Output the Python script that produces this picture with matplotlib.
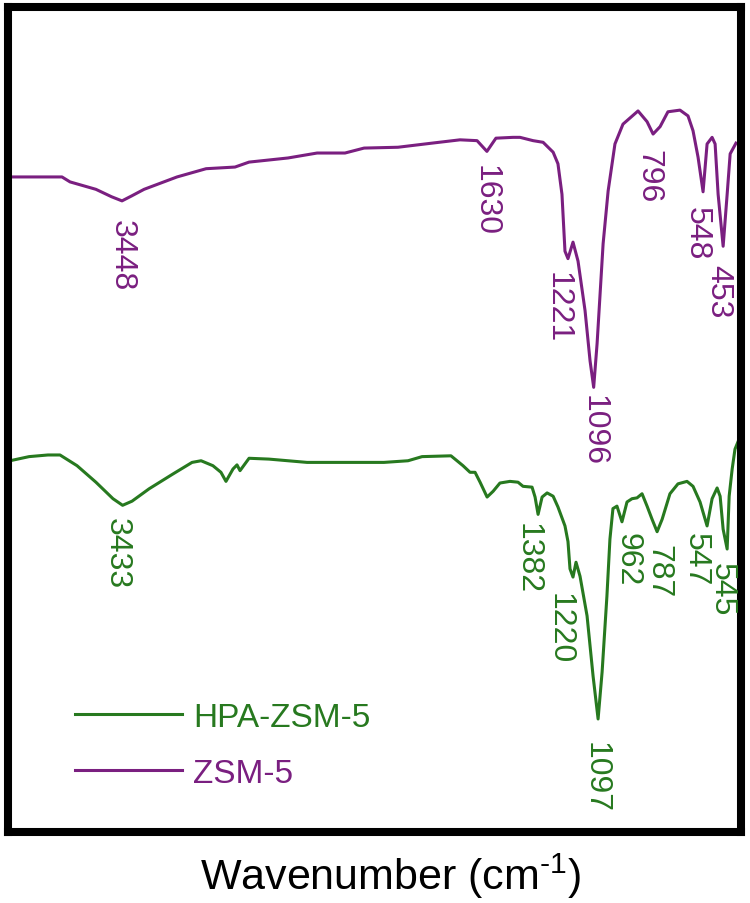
import numpy as np
import matplotlib
matplotlib.use("Agg")
import matplotlib.pyplot as plt

plt.rcParams['font.family'] = ['Liberation Sans', 'DejaVu Sans']
plt.rcParams['mathtext.fontset'] = 'custom'
plt.rcParams['mathtext.rm'] = 'Liberation Sans'

# FTIR spectra (wavenumber in cm-1, transmittance in a.u., offset)
zsm5_wn = [4006, 3747, 3707, 3578, 3500, 3448, 3400, 3338, 3174, 3029, 2885, 2815,
           2621, 2476, 2337, 2242, 2073, 1903, 1764, 1679, 1630, 1585, 1500, 1465,
           1400, 1350, 1300, 1276, 1256, 1241, 1226, 1201, 1176, 1141, 1116, 1098,
           1081, 1051, 1026, 992, 952, 877, 832, 802, 767, 728, 668, 628, 603, 578,
           553, 533, 508, 493, 478, 453, 433, 418, 389]
zsm5_t = [79.4, 79.4, 78.8, 77.9, 77.0, 76.5, 77.1, 77.9, 79.4, 80.4, 80.6, 81.2,
          81.7, 82.3, 82.3, 82.9, 83.0, 83.5, 83.9, 83.8, 82.5, 84.1, 84.2, 84.2,
          83.8, 83.6, 82.4, 81.0, 77.3, 70.4, 69.5, 71.5, 69.2, 63.2, 57.1, 53.9,
          59.2, 71.3, 77.7, 83.4, 85.8, 87.4, 86.1, 84.6, 85.5, 87.3, 87.5, 86.8,
          85.0, 81.8, 77.6, 83.4, 84.2, 83.4, 77.3, 71.0, 77.3, 82.2, 83.5]

hpa_wn = [4006, 3911, 3817, 3757, 3672, 3578, 3493, 3445, 3398, 3313, 3194, 3099,
          3054, 2995, 2955, 2930, 2895, 2875, 2860, 2815, 2716, 2526, 2143, 2023,
          1953, 1809, 1749, 1714, 1689, 1664, 1629, 1599, 1565, 1515, 1475, 1450,
          1405, 1390, 1375, 1355, 1330, 1300, 1276, 1241, 1226, 1216, 1201, 1186,
          1166, 1131, 1101, 1076, 1056, 1032, 1017, 1002, 982, 957, 932, 907, 882,
          857, 832, 807, 782, 757, 718, 678, 633, 603, 568, 533, 508, 483, 468,
          453, 433, 423, 408, 394, 379]
hpa_t = [45.0, 45.5, 45.7, 45.7, 44.4, 42.4, 40.4, 39.6, 40.1, 41.6, 43.4, 44.8,
         45.0, 44.4, 43.6, 42.5, 44.0, 44.5, 43.8, 45.3, 45.2, 44.8, 44.8, 45.0,
         45.5, 45.6, 44.4, 43.6, 43.6, 42.4, 40.6, 41.3, 42.3, 42.5, 42.4, 41.9,
         41.8, 40.6, 38.5, 40.6, 41.1, 40.7, 39.4, 37.1, 35.2, 31.9, 30.9, 32.7,
         31.0, 26.2, 18.9, 13.7, 19.4, 28.6, 35.5, 39.2, 39.5, 37.6, 40.0, 40.4,
         40.5, 41.0, 39.5, 37.9, 36.4, 37.9, 41.0, 42.2, 42.5, 41.9, 40.0, 37.1,
         40.4, 41.7, 40.7, 36.7, 34.3, 40.7, 44.0, 46.4, 47.3]

zsm5_peaks = ['3448', '1630', '1221', '1096', '796', '548', '453']
hpa_peaks = ['3433', '1382', '1220', '1097', '962', '787', '547', '545']

# where each peak label sits (x, top of text)
zsm5_lab_x = [3448, 1634, 1276, 1096, 827, 583, 478]
zsm5_lab_y = [74.3, 81.0, 68.0, 53.1, 82.8, 75.9, 68.8]
hpa_lab_x = [3473, 1425, 1266, 1086, 927, 777, 588, 458]
hpa_lab_y = [38.2, 37.6, 29.1, 11.0, 36.4, 34.9, 36.4, 32.7]

purple = '#7a1f80'
green = '#27791f'

fig = plt.figure(figsize=(7.5, 9.04), dpi=100)
ax = fig.add_axes([8/750, (904-833)/904, 733/750, 825/904])

l_purple, = ax.plot(zsm5_wn, zsm5_t, color=purple, lw=2.2, label='ZSM-5')
l_green, = ax.plot(hpa_wn, hpa_t, color=green, lw=2.2, label='HPA-ZSM-5')

for txt, x, y in zip(zsm5_peaks, zsm5_lab_x, zsm5_lab_y):
    ax.text(x, y, txt, color=purple, fontsize=23, rotation=-90, ha='center', va='top')
for txt, x, y in zip(hpa_peaks, hpa_lab_x, hpa_lab_y):
    ax.text(x, y, txt, color=green, fontsize=23, rotation=-90, ha='center', va='top')

ax.set_xlim(4016, 364)
ax.set_ylim(0, 100)
ax.set_xticks([])
ax.set_yticks([])
for sp in ax.spines.values():
    sp.set_linewidth(5.8)

ax.legend(handles=[l_green, l_purple], loc='upper left',
          bbox_to_anchor=(0.0914, 0.158), frameon=False, fontsize=24,
          handlelength=3.2, handletextpad=0.35, labelspacing=0.76,
          borderpad=0, borderaxespad=0, labelcolor='linecolor')

ax.set_xlabel(r'Wavenumber (cm$^{\text{-}1}$)', fontsize=31, va='center')
ax.xaxis.set_label_coords(0.5225, -0.052)

fig.savefig('out.png', dpi=100)
